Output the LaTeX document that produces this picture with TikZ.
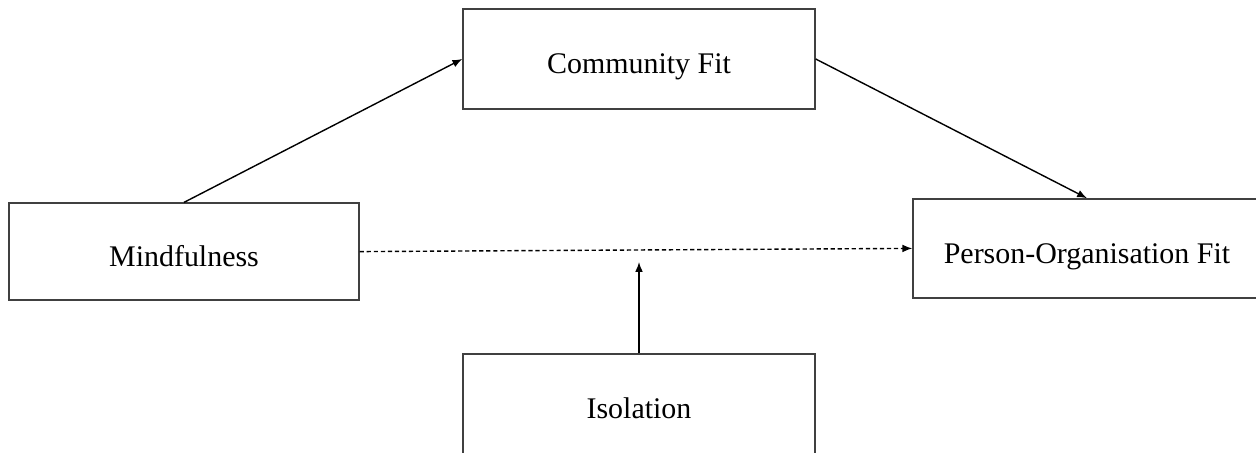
\documentclass[tikz,border=0pt]{standalone}
\usepackage{fontspec}
\setmainfont{Liberation Serif}
\usetikzlibrary{arrows.meta}
\begin{document}
\begin{tikzpicture}[scale=1,
        varbox/.style={draw=black!75, line width=1pt, minimum width=8.8cm, minimum height=2.5cm, text height=23pt, text depth=2pt, font=\fontsize{21.3}{25}\selectfont},
        path/.style={line width=1pt, -{Latex[length=7pt,width=5.5pt]}}]
        \useasboundingbox (0,0) rectangle (31.4,-11.325);
        \node[varbox] (comm) at (15.975,-1.475) {Community Fit};
        \node[varbox, minimum width=8.75cm, minimum height=2.425cm] (mind) at (4.6,-6.29) {Mindfulness};
        \node[varbox, minimum width=8.7cm, minimum height=2.475cm] (pof) at (27.175,-6.21) {Person-Organisation Fit};
        \node[varbox] (iso) at (15.975,-10.1) {Isolation};
        \coordinate (mod) at (15.975,-6.55);
        \draw[path] (mind.north) -- (comm.west);
        \draw[path] (comm.east) -- (pof.north);
        \draw[path, dash pattern=on 3pt off 2pt] (mind.east) -- (pof.west);
        \draw[path] (iso.north) -- (mod);
      \end{tikzpicture}
\end{document}
